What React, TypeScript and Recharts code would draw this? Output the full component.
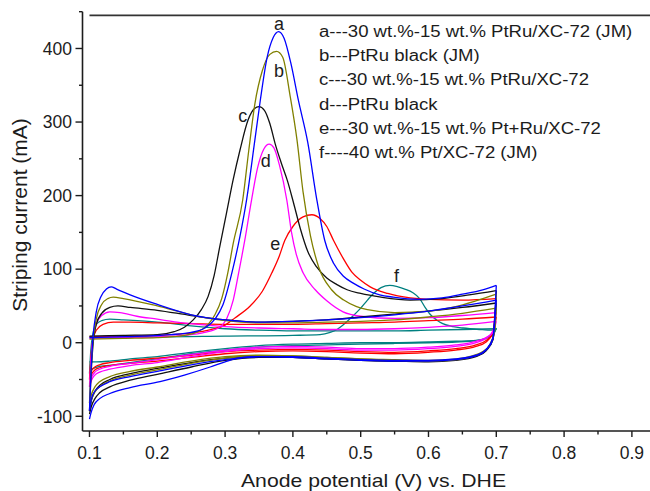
import { Line, LineChart, ReferenceDot, ReferenceLine, XAxis, YAxis } from "recharts";

type Pt = [number, number];

// a --- 30 wt.%-15 wt.% PtRu/XC-72 (JM), blue
const blueStrip: Pt[] = [[0.1,7],[0.14,8],[0.18,9],[0.22,11],[0.25,14],[0.27,20],[0.285,32],[0.297,52],[0.31,95],[0.322,145],[0.332,196],[0.344,276],[0.352,330],[0.362,388],[0.371,415],[0.379,423],[0.387,414],[0.397,380],[0.408,330],[0.422,272],[0.435,196],[0.447,139],[0.46,108],[0.475,90],[0.489,81],[0.505,73],[0.528,65],[0.548,62],[0.587,59],[0.62,61],[0.65,66],[0.68,72],[0.7,78]];
const blueBack1: Pt[] = [[0.1,-92],[0.103,-76],[0.108,-66],[0.115,-60],[0.13,-53],[0.16,-46],[0.2,-39],[0.25,-30],[0.3,-23],[0.35,-19],[0.4,-19],[0.45,-21],[0.5,-23],[0.55,-24],[0.6,-24],[0.64,-22],[0.67,-17],[0.685,-9],[0.695,6],[0.7,78]];
const blueScan2: Pt[] = [[0.1,-92],[0.102,-45],[0.105,5],[0.11,42],[0.117,63],[0.125,73],[0.132,76],[0.14,73],[0.16,65],[0.2,52],[0.25,38],[0.3,31],[0.35,28],[0.4,29],[0.45,31],[0.5,34],[0.55,38],[0.6,43],[0.65,50],[0.7,58]];
const blueBack2: Pt[] = [[0.1,-104],[0.102,-96],[0.107,-84],[0.115,-76],[0.13,-69],[0.16,-61],[0.204,-53],[0.24,-44],[0.278,-33],[0.3,-26],[0.326,-20],[0.35,-19],[0.4,-20],[0.45,-22],[0.5,-24],[0.55,-25],[0.6,-25],[0.64,-23],[0.67,-18],[0.685,-10],[0.695,5],[0.7,58]];

// b --- PtRu black (JM), olive
const oliveStrip: Pt[] = [[0.1,5],[0.15,6],[0.2,7],[0.24,10],[0.26,15],[0.275,25],[0.285,38],[0.295,60],[0.304,95],[0.312,135],[0.326,194],[0.335,262],[0.344,325],[0.355,370],[0.366,392],[0.376,396],[0.385,388],[0.396,335],[0.406,276],[0.415,205],[0.426,145],[0.438,103],[0.457,72],[0.475,58],[0.494,49],[0.51,45],[0.55,41],[0.6,43],[0.64,49],[0.67,57],[0.7,66]];
const oliveBack1: Pt[] = [[0.1,-82],[0.103,-70],[0.108,-60],[0.115,-53],[0.13,-46],[0.16,-39],[0.2,-33],[0.25,-25],[0.3,-19],[0.35,-17],[0.4,-18],[0.45,-20],[0.5,-22],[0.55,-23],[0.6,-24],[0.63,-23],[0.66,-19],[0.68,-12],[0.69,-3],[0.697,15],[0.7,66]];
const oliveScan2: Pt[] = [[0.1,-82],[0.102,-40],[0.105,0],[0.11,32],[0.118,52],[0.127,60],[0.135,62],[0.15,60],[0.2,50],[0.25,38],[0.3,30],[0.35,27],[0.4,27],[0.45,28],[0.5,29],[0.55,31],[0.6,35],[0.65,40],[0.7,47]];
const oliveBack2: Pt[] = [[0.1,-88],[0.103,-77],[0.108,-67],[0.115,-60],[0.13,-52],[0.16,-44],[0.2,-37],[0.25,-28],[0.3,-21],[0.35,-18],[0.4,-18],[0.45,-20],[0.5,-22],[0.55,-24],[0.6,-25],[0.63,-24],[0.66,-20],[0.68,-13],[0.69,-4],[0.697,12],[0.7,47]];

// c --- 30 wt.%-15 wt.% PtRu/XC-72, black
const blackStrip: Pt[] = [[0.1,9],[0.15,10],[0.2,11],[0.225,15],[0.24,21],[0.253,31],[0.265,45],[0.275,63],[0.284,92],[0.292,130],[0.302,176],[0.312,222],[0.322,262],[0.334,303],[0.343,318],[0.35,321],[0.358,316],[0.366,298],[0.374,270],[0.383,244],[0.392,220],[0.401,190],[0.411,155],[0.422,124],[0.435,103],[0.45,88],[0.465,79],[0.48,72],[0.5,67],[0.53,62],[0.573,58],[0.62,60],[0.66,65],[0.7,71]];
const blackBack1: Pt[] = [[0.1,-93],[0.103,-78],[0.108,-66],[0.115,-58],[0.13,-50],[0.16,-42],[0.2,-35],[0.25,-27],[0.3,-21],[0.35,-19],[0.4,-20],[0.45,-22],[0.5,-24],[0.55,-25],[0.6,-25],[0.64,-23],[0.67,-18],[0.685,-10],[0.695,5],[0.7,71]];
const blackScan2: Pt[] = [[0.1,-93],[0.102,-50],[0.105,-5],[0.11,25],[0.118,40],[0.13,48],[0.142,50],[0.16,48],[0.2,44],[0.25,37],[0.3,31],[0.35,28],[0.4,29],[0.45,31],[0.5,35],[0.55,39],[0.6,43],[0.65,48],[0.7,54]];
const blackBack2: Pt[] = [[0.1,-97],[0.103,-86],[0.108,-76],[0.115,-68],[0.13,-60],[0.16,-51],[0.2,-43],[0.25,-33],[0.3,-24],[0.35,-20],[0.4,-20],[0.45,-22],[0.5,-24],[0.55,-25],[0.6,-26],[0.64,-24],[0.67,-19],[0.685,-11],[0.695,4],[0.7,54]];

// d --- PtRu black, magenta
const magentaStrip: Pt[] = [[0.1,6],[0.15,7],[0.2,8],[0.24,10],[0.27,14],[0.29,20],[0.302,32],[0.312,58],[0.32,95],[0.329,139],[0.339,194],[0.348,238],[0.357,263],[0.365,270],[0.372,265],[0.38,242],[0.391,194],[0.398,150],[0.405,120],[0.415,95],[0.433,72],[0.45,57],[0.474,42],[0.5,36],[0.55,33],[0.6,34],[0.65,37],[0.7,41]];
const magentaBack1: Pt[] = [[0.1,-60],[0.103,-51],[0.108,-44],[0.115,-40],[0.13,-36],[0.16,-31],[0.2,-27],[0.25,-19],[0.3,-12],[0.35,-8],[0.4,-7],[0.45,-8],[0.5,-10],[0.55,-10],[0.6,-8],[0.64,-5],[0.67,0],[0.685,6],[0.695,16],[0.7,41]];
const magentaScan2: Pt[] = [[0.1,-60],[0.102,-25],[0.105,5],[0.11,25],[0.118,37],[0.13,42],[0.145,41],[0.17,36],[0.2,32],[0.229,28],[0.26,25],[0.3,22],[0.351,20],[0.4,19],[0.45,18],[0.5,18],[0.55,19],[0.6,21],[0.65,24],[0.7,29]];
const magentaBack2: Pt[] = [[0.1,-56],[0.103,-47],[0.108,-40],[0.115,-36],[0.13,-32],[0.16,-28],[0.2,-23],[0.25,-16],[0.3,-10],[0.35,-6],[0.4,-5],[0.45,-6],[0.5,-8],[0.55,-8],[0.6,-6],[0.64,-3],[0.67,2],[0.685,7],[0.695,14],[0.7,29]];

// e --- 30 wt.%-15 wt.% Pt+Ru/XC-72, red
const redStrip: Pt[] = [[0.1,8],[0.15,9],[0.2,10],[0.25,13],[0.28,18],[0.3,24],[0.315,34],[0.337,50],[0.355,70],[0.369,95],[0.38,118],[0.388,139],[0.4,158],[0.415,171],[0.428,174],[0.44,169],[0.45,158],[0.46,139],[0.474,115],[0.487,96],[0.5,85],[0.514,76],[0.54,67],[0.573,61],[0.6,59],[0.65,58],[0.7,60]];
const redBack1: Pt[] = [[0.1,-50],[0.103,-43],[0.108,-37],[0.115,-34],[0.13,-31],[0.16,-28],[0.2,-25],[0.25,-20],[0.3,-15],[0.35,-12],[0.4,-11],[0.45,-12],[0.5,-14],[0.55,-15],[0.6,-13],[0.64,-10],[0.67,-5],[0.685,1],[0.695,14],[0.7,60]];
const redScan2: Pt[] = [[0.1,-50],[0.102,-20],[0.105,3],[0.11,17],[0.12,25],[0.135,28],[0.16,28],[0.2,27],[0.25,26],[0.3,25],[0.35,25],[0.4,25],[0.45,26],[0.5,27],[0.55,28],[0.6,30],[0.65,32],[0.7,35]];
const redBack2: Pt[] = [[0.1,-45],[0.103,-38],[0.108,-33],[0.115,-30],[0.13,-27],[0.16,-24],[0.2,-21],[0.25,-17],[0.3,-12],[0.35,-10],[0.4,-9],[0.45,-10],[0.5,-12],[0.55,-13],[0.6,-11],[0.64,-8],[0.67,-3],[0.685,3],[0.695,13],[0.7,35]];

// f --- 40 wt.% Pt/XC-72 (JM), teal
const tealStrip: Pt[] = [[0.1,8],[0.15,8],[0.2,8],[0.3,9],[0.4,10],[0.44,11],[0.455,14],[0.465,18],[0.474,24],[0.487,35],[0.499,46],[0.51,58],[0.52,68],[0.53,75],[0.543,78],[0.555,76],[0.565,73],[0.577,68],[0.587,60],[0.595,48],[0.603,38],[0.612,31],[0.621,26],[0.636,22],[0.651,20],[0.675,18],[0.693,17],[0.7,20]];
const tealBack1: Pt[] = [[0.1,-42],[0.103,-37],[0.108,-34],[0.115,-32],[0.137,-30],[0.16,-27],[0.2,-22],[0.25,-15],[0.3,-10],[0.35,-6],[0.4,-4],[0.45,-3],[0.5,-2],[0.55,-1],[0.6,0],[0.64,1],[0.67,3],[0.685,6],[0.695,11],[0.7,20]];
const tealScan2: Pt[] = [[0.1,-42],[0.102,-10],[0.105,12],[0.11,25],[0.118,30],[0.13,32],[0.15,31],[0.2,28],[0.25,23],[0.3,19],[0.35,17],[0.4,16],[0.45,16],[0.5,16],[0.55,16],[0.6,17],[0.65,18],[0.7,19]];
const tealBack2: Pt[] = [[0.1,-26],[0.11,-26],[0.13,-25],[0.16,-22],[0.2,-19],[0.25,-13],[0.3,-8],[0.35,-4],[0.4,-2],[0.45,-1],[0.5,0],[0.55,0],[0.6,1],[0.64,2],[0.67,3],[0.685,6],[0.695,11],[0.7,19]];

const legendLines = [
  "a---30 wt.%-15 wt.% PtRu/XC-72 (JM)",
  "b---PtRu black (JM)",
  "c---30 wt.%-15 wt.% PtRu/XC-72",
  "d---PtRu black",
  "e---30 wt.%-15 wt.% Pt+Ru/XC-72",
  "f----40 wt.% Pt/XC-72 (JM)",
];

const curveTags = ["a", "b", "c", "d", "e", "f"];
const tagPotential = [0.3795, 0.3795, 0.326, 0.36, 0.374, 0.553];
const tagCurrent = [433, 369, 307, 246, 133, 90];

const xTicks = [0.1, 0.15, 0.2, 0.25, 0.3, 0.35, 0.4, 0.45, 0.5, 0.55, 0.6, 0.65, 0.7, 0.75, 0.8, 0.85, 0.9];
const yTicks = [-100, -50, 0, 50, 100, 150, 200, 250, 300, 350, 400, 450];

const FONT = "'Liberation Sans', Arial, Helvetica, sans-serif";
const INK = "#1c1c1c";

const curves = [
  { name: "f", color: "#008080", parts: [tealStrip, tealBack1, tealScan2, tealBack2] },
  { name: "e", color: "#ff0000", parts: [redStrip, redBack1, redScan2, redBack2] },
  { name: "d", color: "#ff00ff", parts: [magentaStrip, magentaBack1, magentaScan2, magentaBack2] },
  { name: "c", color: "#111111", parts: [blackStrip, blackBack1, blackScan2, blackBack2] },
  { name: "b", color: "#808000", parts: [oliveStrip, oliveBack1, oliveScan2, oliveBack2] },
  { name: "a", color: "#0000ff", parts: [blueStrip, blueBack1, blueScan2, blueBack2] },
];

const toPoints = (pts: Pt[]) => pts.map(([v, i]) => ({ v, i }));

function YTick({ x, y, payload }: any) {
  const value = payload.value as number;
  const major = value % 100 === 0;
  return (
    <g>
      <line x1={x} x2={x - (major ? 7 : 3.5)} y1={y} y2={y} stroke={INK} strokeWidth={1.4} />
      {major ? (
        <text x={x - 10.5} y={y} dy="0.36em" textAnchor="end" fontSize={17.5} fontFamily={FONT} fill={INK}>
          {value}
        </text>
      ) : null}
    </g>
  );
}

function XTick({ x, y, payload }: any) {
  const value = payload.value as number;
  const major = Math.round(value * 100) % 10 === 0;
  return (
    <g>
      <line x1={x} x2={x} y1={y} y2={y + (major ? 6 : 3.5)} stroke={INK} strokeWidth={1.4} />
      {major ? (
        <text x={x} y={y + 28} textAnchor="middle" fontSize={17.5} fontFamily={FONT} fill={INK}>
          {value.toFixed(1)}
        </text>
      ) : null}
    </g>
  );
}

export default function App() {
  return (
    <div style={{ position: "absolute", left: 0, top: 0, width: 650, height: 491, background: "#fff" }}>
      <LineChart width={650} height={491} margin={{ top: 11.7, right: 0, bottom: 0, left: 0 }}>
        <XAxis
          dataKey="v"
          type="number"
          domain={[0.0897, 0.9267]}
          allowDataOverflow
          ticks={xTicks}
          interval={0}
          tick={<XTick />}
          tickLine={false}
          tickSize={0}
          tickMargin={0}
          height={60}
          axisLine={{ stroke: INK, strokeWidth: 1.6 }}
        />
        <YAxis
          dataKey="i"
          type="number"
          domain={[-120, 450]}
          allowDataOverflow
          ticks={yTicks}
          interval={0}
          tick={<YTick />}
          tickLine={false}
          tickSize={0}
          tickMargin={0}
          width={82.5}
          axisLine={{ stroke: INK, strokeWidth: 1.6 }}
        />
        <ReferenceLine
          segment={[
            { x: 0.1, y: 445 },
            { x: 0.9267, y: 445 },
          ]}
          stroke="#333"
          strokeWidth={1.6}
        />
        {curves.flatMap((c) =>
          c.parts.map((part, k) => (
            <Line
              key={`${c.name}-${k}`}
              data={toPoints(part)}
              dataKey="i"
              type="monotone"
              stroke={c.color}
              strokeWidth={1.3}
              dot={false}
              activeDot={false}
              isAnimationActive={false}
            />
          ))
        )}
        {curveTags.map((tag, k) => (
          <ReferenceDot
            key={tag}
            x={tagPotential[k]}
            y={tagCurrent[k]}
            r={0}
            shape={(p: any) => (
              <text x={p.cx} y={p.cy} dy="0.3em" textAnchor="middle" fontSize={18} fontFamily={FONT} fill={INK}>
                {tag}
              </text>
            )}
          />
        ))}
      </LineChart>
      <svg
        width={650}
        height={491}
        style={{ position: "absolute", left: 0, top: 0, pointerEvents: "none" }}
      >
        <g transform="translate(319 0) scale(1.16 1)">
          {legendLines.map((line, k) => (
            <text key={line} x={0} y={37.3 + k * 24.1} fontSize={16} fontFamily={FONT} fill={INK}>
              {line}
            </text>
          ))}
        </g>
        <text
          transform="translate(373.5 486.5) scale(1.14 1)"
          textAnchor="middle"
          fontSize={18.6}
          fontFamily={FONT}
          fill={INK}
        >
          Anode potential (V) vs. DHE
        </text>
        <text
          transform="translate(26.5 215) rotate(-90)"
          textAnchor="middle"
          fontSize={21}
          fontFamily={FONT}
          fill={INK}
        >
          Striping current (mA)
        </text>
      </svg>
    </div>
  );
}
